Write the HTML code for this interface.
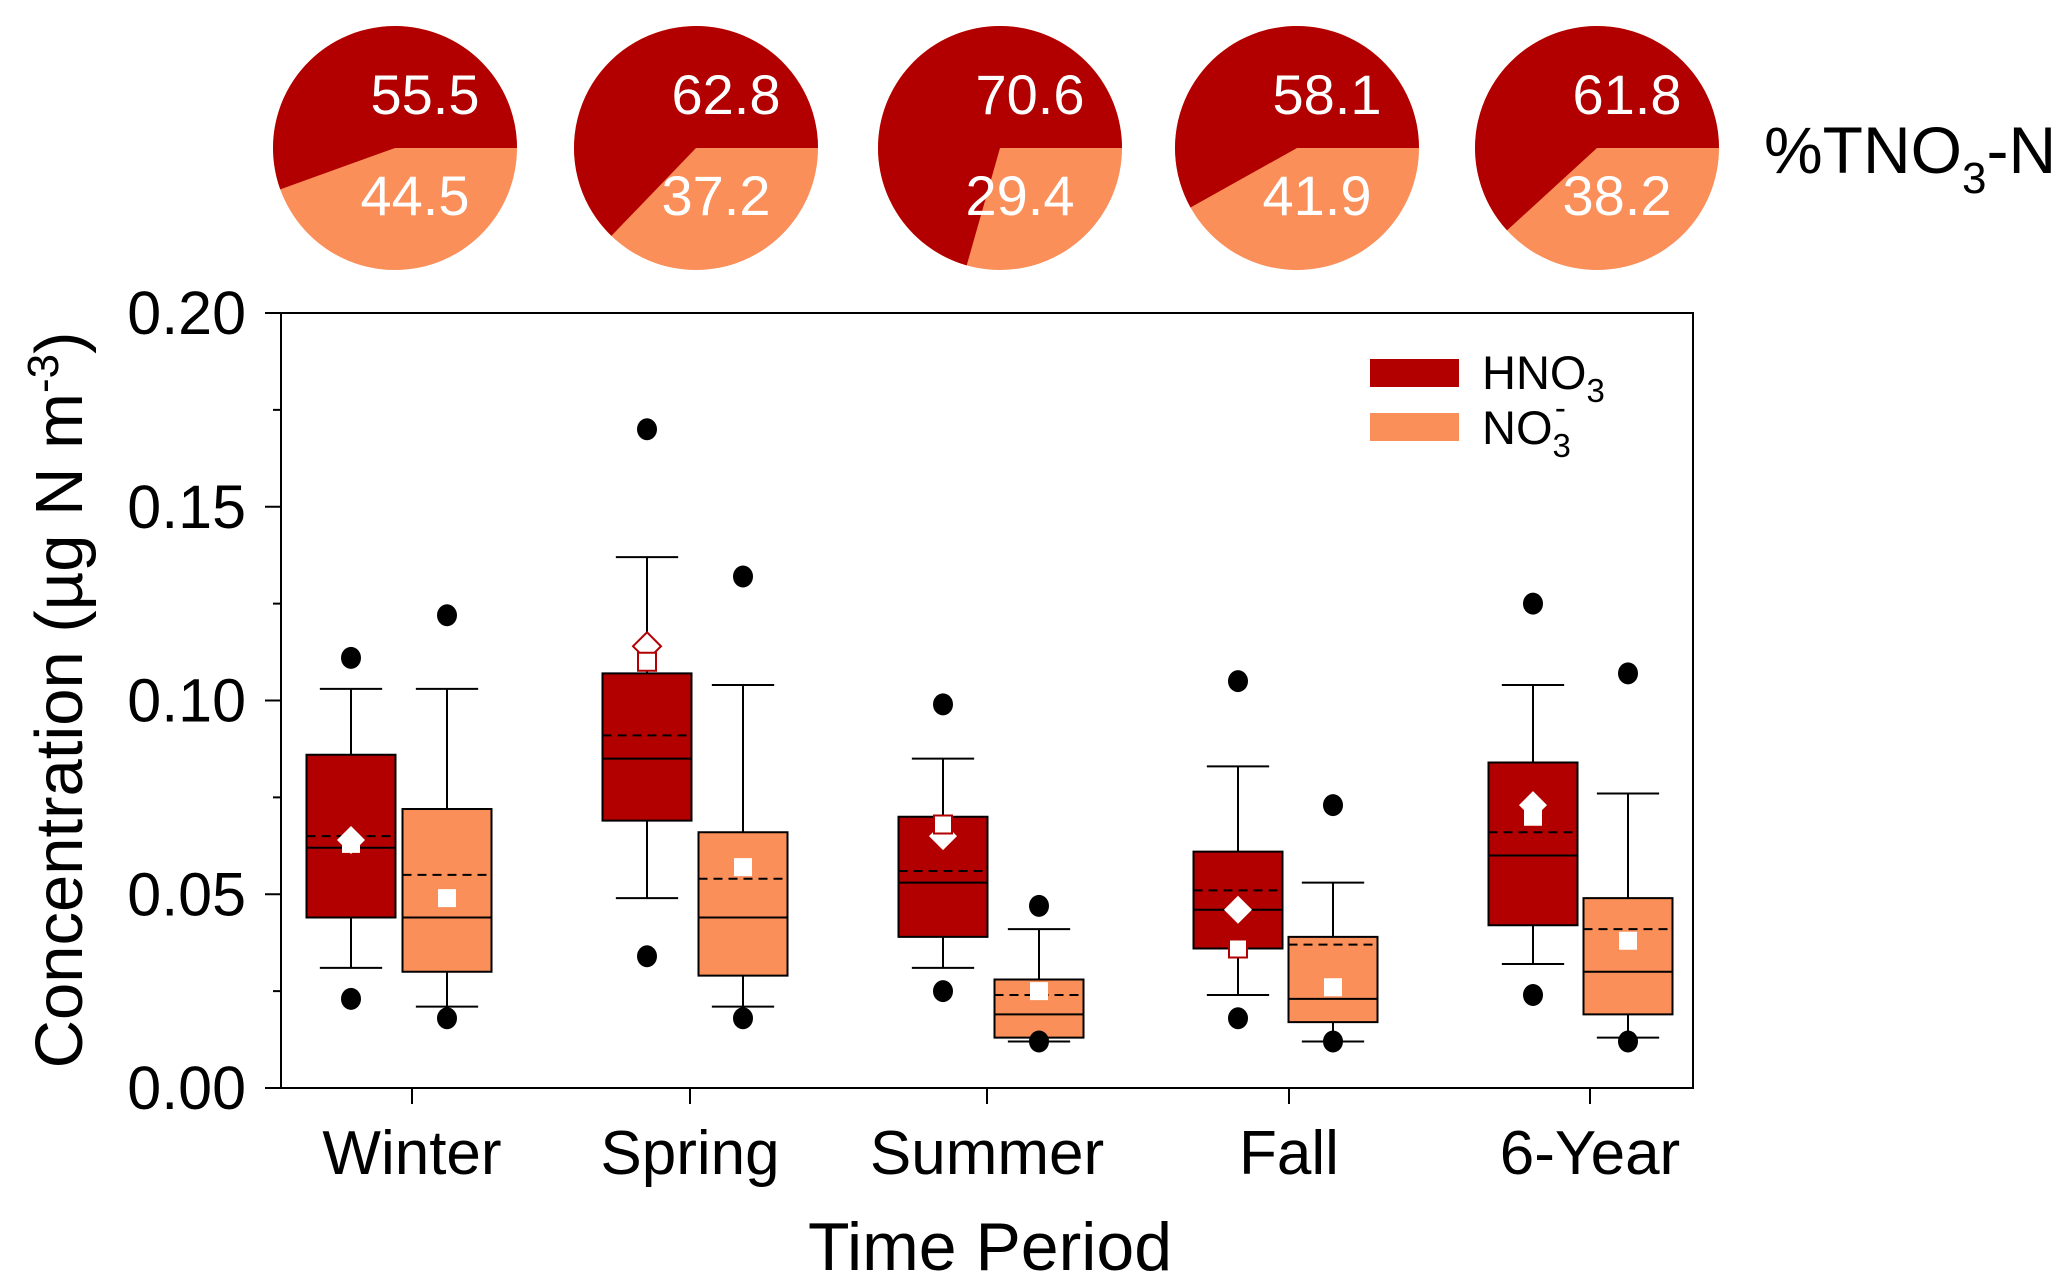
<!DOCTYPE html>
<html><head><meta charset="utf-8"><style>
html,body{margin:0;padding:0;background:#fff;}
svg{display:block;font-family:"Liberation Sans",Arial,sans-serif;}
</style></head><body>
<svg id="c" width="2067" height="1284" viewBox="0 0 2067 1284" xmlns="http://www.w3.org/2000/svg"></svg>
<script>
const categories=["Winter","Spring","Summer","Fall","6-Year"];
const hno3Pct=[55.5,62.8,70.6,58.1,61.8];
const no3Pct=[44.5,37.2,29.4,41.9,38.2];
// [whiskerLow,Q1,median,Q3,whiskerHigh]
const hno3Box=[[0.031,0.044,0.062,0.086,0.103],[0.049,0.069,0.085,0.107,0.137],[0.031,0.039,0.053,0.070,0.085],[0.024,0.036,0.046,0.061,0.083],[0.032,0.042,0.060,0.084,0.104]];
const no3Box=[[0.021,0.030,0.044,0.072,0.103],[0.021,0.029,0.044,0.066,0.104],[0.012,0.013,0.019,0.028,0.041],[0.012,0.017,0.023,0.039,0.053],[0.013,0.019,0.030,0.049,0.076]];
const hno3Mean=[0.065,0.091,0.056,0.051,0.066];
const no3Mean=[0.055,0.054,0.024,0.037,0.041];
const hno3Out=[[0.111,0.023],[0.170,0.034],[0.099,0.025],[0.105,0.018],[0.125,0.024]];
const no3Out=[[0.122,0.018],[0.132,0.018],[0.047,0.012],[0.073,0.012],[0.107,0.012]];
const hno3Diamond=[0.064,0.114,0.065,0.046,0.073];
const hno3Square=[0.063,0.110,0.068,0.036,0.070];
const no3Square=[0.049,0.057,0.025,0.026,0.038];
const yTicks=[0,0.05,0.10,0.15,0.20];
const yTickLabels=["0.00","0.05","0.10","0.15","0.20"];

const RED="#B20000",ORG="#FA8F5A";
const svg=document.getElementById('c');
const NS="http://www.w3.org/2000/svg";
function mk(tag,attrs,parent){const e=document.createElementNS(NS,tag);for(const k in attrs)e.setAttribute(k,attrs[k]);(parent||svg).appendChild(e);return e;}
const X0=281,X1=1693,Y0=1088,Y1=313;
const catX=[412,690,987,1289,1590];
const hX=[351,647,943,1238,1533];
const nX=[447,743,1039,1333,1628];
const yS=v=>Y0-(v/0.2)*(Y0-Y1);
const BW=89;

let fr=mk('rect',{x:X0,y:Y1,width:X1-X0,height:Y0-Y1,fill:'none',stroke:'#000','stroke-width':2});


for(let v=0;v<=0.2001;v+=0.025){
  const major=Math.abs(v/0.05-Math.round(v/0.05))<1e-6;
  let t=mk('line',{x1:X0-(major?16:8),x2:X0,y1:yS(v),y2:yS(v),stroke:'#000','stroke-width':2});
  
  
}
yTicks.forEach((v,i)=>{
  let t=mk('text',{x:246,y:yS(v)+21,'font-size':61,'text-anchor':'end'});t.textContent=yTickLabels[i];
  
  
});
let yt=mk('text',{transform:'translate(82,700) rotate(-90)','font-size':67,'text-anchor':'middle'});
yt.innerHTML='Concentration (µg N m<tspan dy="-24" font-size="44">-3</tspan><tspan dy="24">)</tspan>';


let xt=mk('text',{x:990,y:1270,'font-size':68,'text-anchor':'middle'});xt.textContent='Time Period';



function box(cx,b,mean,fill,name){
  const g=mk('g',{});
  
  
  const cap=BW*0.35;
  mk('line',{x1:cx,x2:cx,y1:yS(b[0]),y2:yS(b[1]),stroke:'#000','stroke-width':2},g);
  mk('line',{x1:cx,x2:cx,y1:yS(b[3]),y2:yS(b[4]),stroke:'#000','stroke-width':2},g);
  mk('line',{x1:cx-cap,x2:cx+cap,y1:yS(b[0]),y2:yS(b[0]),stroke:'#000','stroke-width':2},g);
  mk('line',{x1:cx-cap,x2:cx+cap,y1:yS(b[4]),y2:yS(b[4]),stroke:'#000','stroke-width':2},g);
  mk('rect',{x:cx-BW/2,y:yS(b[3]),width:BW,height:yS(b[1])-yS(b[3]),fill:fill,stroke:'#000','stroke-width':2},g);
  mk('line',{x1:cx-BW/2,x2:cx+BW/2,y1:yS(b[2]),y2:yS(b[2]),stroke:'#000','stroke-width':2},g);
  mk('line',{x1:cx-BW/2,x2:cx+BW/2,y1:yS(mean),y2:yS(mean),stroke:'#000','stroke-width':2,'stroke-dasharray':'9,6'},g);
}
function dot(cx,v){let c=mk('ellipse',{cx:cx,cy:yS(v),rx:10,ry:11,fill:'#000'});
  
  }
function square(cx,v,stroke){let r=mk('rect',{x:cx-9,y:yS(v)-9,width:18,height:18,fill:'#fff',stroke:stroke||'none','stroke-width':2});
  
  }
function diamond(cx,v,stroke){const s=14,y=yS(v);let p=mk('polygon',{points:`${cx},${y-s} ${cx+s},${y} ${cx},${y+s} ${cx-s},${y}`,fill:'#fff',stroke:stroke||'none','stroke-width':2});
  
  }

categories.forEach((c,i)=>{
  const cx=catX[i];
  let t=mk('line',{x1:cx,x2:cx,y1:Y0,y2:Y0+16,stroke:'#000','stroke-width':2});
  
  
  let l=mk('text',{x:cx,y:1174,'font-size':62,'text-anchor':'middle'});l.textContent=c;
  
  
  const hx=hX[i],nx=nX[i];
  box(hx,hno3Box[i],hno3Mean[i],RED,'hno3-box');
  box(nx,no3Box[i],no3Mean[i],ORG,'no3-box');
  hno3Out[i].forEach(v=>dot(hx,v));
  no3Out[i].forEach(v=>dot(nx,v));
  diamond(hx,hno3Diamond[i],i==1?RED:null);
  square(hx,hno3Square[i],(i==1||i==2||i==3)?RED:null);
  square(nx,no3Square[i]);
});

let lg=mk('g',{});


mk('rect',{x:1370,y:359,width:89,height:28,fill:RED},lg);
mk('rect',{x:1370,y:413,width:89,height:28,fill:ORG},lg);
let l1=mk('text',{x:1482,y:389,'font-size':47},lg);l1.innerHTML='HNO<tspan dy="13" font-size="33">3</tspan>';
let l2=mk('text',{x:1482,y:444,'font-size':47},lg);l2.innerHTML='NO<tspan dy="13" font-size="33">3</tspan><tspan dx="-16" dy="-38" font-size="33">-</tspan>';

const PCX=[395,696,1000,1297,1597],PCY=148,R=122;
hno3Pct.forEach((p,i)=>{
  const g=mk('g',{});
  
  
  const cx=PCX[i],a=p/100*2*Math.PI;
  const ex=cx+R*Math.cos(a),ey=PCY-R*Math.sin(a);
  mk('circle',{cx:cx,cy:PCY,r:R,fill:ORG},g);
  mk('path',{d:`M${cx},${PCY} L${cx+R},${PCY} A${R},${R} 0 ${p>50?1:0} 0 ${ex},${ey} Z`,fill:RED},g);
  let t1=mk('text',{x:cx+30,y:114,'font-size':56,fill:'#fff','text-anchor':'middle'},g);t1.textContent=hno3Pct[i].toFixed(1);
  let t2=mk('text',{x:cx+20,y:215,'font-size':56,fill:'#fff','text-anchor':'middle'},g);t2.textContent=no3Pct[i].toFixed(1);
});
let pt=mk('text',{x:1764,y:173,'font-size':66});pt.innerHTML='%TNO<tspan dy="20" font-size="44">3</tspan><tspan dy="-20">-N</tspan>';


</script>
</body></html>
